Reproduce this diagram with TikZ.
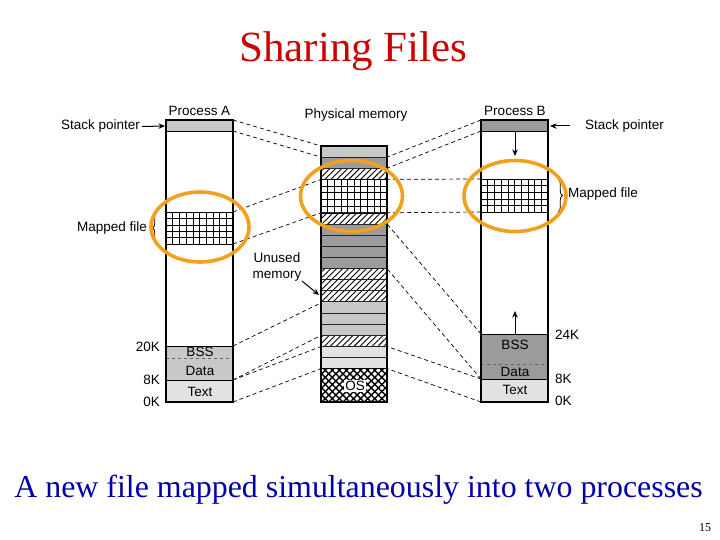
\documentclass[tikz,border=0pt]{standalone}
\usepackage{fontspec}
\setmainfont{Liberation Serif}
\setsansfont{Liberation Sans}
\usetikzlibrary{arrows.meta,patterns.meta,decorations.pathreplacing}
\definecolor{titlered}{RGB}{204,0,0}
\definecolor{capblue}{RGB}{0,0,170}
\definecolor{ringorange}{RGB}{242,160,30}
\definecolor{lgray}{RGB}{200,200,200}
\definecolor{dgray}{RGB}{155,155,155}
\definecolor{vlgray}{RGB}{226,226,226}
\begin{document}
\begin{tikzpicture}[x=1pt,y=-1pt,
  lab/.style={font=\sffamily\fontsize{13.5}{15}\selectfont, inner sep=0pt},
  conn/.style={dash pattern=on 4pt off 3pt, line width=0.7pt},
  colbox/.style={draw=black, line width=1.2pt},
  sep/.style={draw=black, line width=0.8pt},
  bandL/.style={fill=lgray, draw=black!85, line width=0.7pt},
  bandD/.style={fill=dgray, draw=black!85, line width=0.7pt},
  bandV/.style={fill=vlgray, draw=black!85, line width=0.7pt},
  bandH/.style={pattern={Lines[angle=45,distance=4.2pt,line width=0.9pt]}, draw=black!85, line width=0.7pt},
  bandOS/.style={pattern={Lines[angle=45,distance=5pt,line width=1.4pt]},
                 postaction={pattern={Lines[angle=-45,distance=5pt,line width=1.4pt]}}},
  gridln/.style={line width=0.5pt},
  arr/.style={-{Stealth[length=6.5pt,width=5.5pt]}, line width=1pt},
  ring/.style={draw=ringorange, line width=3.6pt},
  brc/.style={decorate, decoration={brace, amplitude=4.5pt}, line width=0.8pt},
]
\useasboundingbox (0,0) rectangle (720,540);

% ---------------- titles ----------------
\node[font=\fontsize{43}{48}\selectfont, text=titlered, anchor=base] (title) at (353.5,62) {Sharing Files};
\node[font=\fontsize{31.9}{36}\selectfont, text=capblue, anchor=base] (caption) at (358.5,497) {A new file mapped simultaneously into two processes};
\node[font=\fontsize{12}{14}\selectfont, anchor=base] (pageno) at (705,531) {15};

% ---------------- Process A ----------------
\fill[lgray] (166,120) rectangle (233,131);
\fill[lgray] (166,346) rectangle (233,380);
\fill[vlgray] (166,380) rectangle (233,402);
\foreach \x in {166,172.7,...,234} \draw[gridln] (\x,212) -- (\x,244);
\foreach \y in {212,218.4,...,245} \draw[gridln] (166,\y) -- (233,\y);
\draw[sep] (166,131) -- (233,131);
\draw[sep] (166,346) -- (233,346);
\draw[sep] (166,380) -- (233,380);
\draw[dashed, black!60, line width=0.6pt] (166,358) -- (233,358);
\draw[colbox] (166,120) rectangle (233,402);

\node[lab] (procA) at (199.5,111) {Process A};
\node[lab] (bssA) at (200,352) {BSS};
\node[lab] (dataA) at (200,370.5) {Data};
\node[lab] (textA) at (200,391.5) {Text};
\node[lab, anchor=east] (k20A) at (160,347) {20K};
\node[lab, anchor=east] (k8A) at (160,380) {8K};
\node[lab, anchor=east] (k0A) at (160,402) {0K};
\node[lab, anchor=east] (spA) at (140,126.5) {Stack pointer};
\coordinate (spAtip) at (165,126);
\draw[arr] ([xshift=2pt]spA.east) -- (spAtip);
\node[lab, anchor=east] (mfA) at (147,228) {Mapped file};
\draw[brc] (157,244) -- (157,212);

% ---------------- Physical memory ----------------
\def\bh{11.1304}
\foreach \a/\b/\s in {0/1/bandL,1/2/bandD,2/3/bandH,6/7/bandH,7/8/bandD,8/9/bandD,9/10/bandD,10/11/bandD,
                      11/12/bandH,12/13/bandH,13/14/bandH,14/15/bandL,15/16/bandL,16/17/bandL,17/18/bandH,
                      18/19/bandV,19/20/bandV}
  \path[\s] (321,{146+\a*\bh}) rectangle (387,{146+\b*\bh});
\path[bandOS] (321,{146+20*\bh}) rectangle (387,402);
\foreach \x in {321,327.6,...,388} \draw[gridln] (\x,{146+3*\bh}) -- (\x,{146+6*\bh});
\foreach \y in {0,1,...,5} \draw[gridln] (321,{146+3*\bh+\y*6.678}) -- (387,{146+3*\bh+\y*6.678});
\draw[sep] (321,{146+20*\bh}) -- (387,{146+20*\bh});
\draw[colbox] (321,146) rectangle (387,402);
\node[lab, fill=white, inner sep=1.5pt] (os) at (355,386) {OS};
\node[lab] (physlab) at (356,115) {Physical memory};
\node[lab, align=center, font=\sffamily\fontsize{13.5}{16}\selectfont] (unused) at (277,267) {Unused\\memory};
\coordinate (unusedtip) at (319,295);
\draw[arr] (302,281) -- (unusedtip);

% ---------------- Process B ----------------
\fill[dgray] (481,120) rectangle (548,131);
\fill[dgray] (481,334) rectangle (548,379);
\fill[vlgray] (481,379) rectangle (548,402);
\foreach \x in {481,487.7,...,549} \draw[gridln] (\x,179) -- (\x,212);
\foreach \y in {179,185.6,...,213} \draw[gridln] (481,\y) -- (548,\y);
\draw[sep] (481,131) -- (548,131);
\draw[sep] (481,334) -- (548,334);
\draw[sep] (481,379) -- (548,379);
\draw[dashed, black!60, line width=0.6pt] (481,364) -- (548,364);
\draw[colbox] (481,120) rectangle (548,402);

\node[lab] (procB) at (515,111) {Process B};
\node[lab] (bssB) at (515,344.5) {BSS};
\node[lab] (dataB) at (515,372) {Data};
\node[lab] (textB) at (515,390) {Text};
\node[lab, anchor=west] (k24B) at (555,335) {24K};
\node[lab, anchor=west] (k8B) at (555,379) {8K};
\node[lab, anchor=west] (k0B) at (555,401) {0K};
\node[lab, anchor=west] (spB) at (585,126.5) {Stack pointer};
\coordinate (spBtip) at (550,126);
\draw[arr] (570,126) -- (spBtip);
\node[lab, anchor=west] (mfB) at (568,194.5) {Mapped file};
\draw[brc] (558,179) -- (558,212);
\coordinate (stkB) at (515,132);
\coordinate (stkBtip) at (515,156);
\draw[arr] (stkB) -- (stkBtip);
\coordinate (heapB) at (515,334);
\coordinate (heapBtip) at (515,311);
\draw[arr] (heapB) -- (heapBtip);

% ---------------- connectors ----------------
\foreach \ay/\py in {120/146,131/157.13,212/179.39,244/212.78,346/302.83,380/335.4,380/346.52,402/368.6}
  \draw[conn] (233,\ay) -- (321,\py);
\foreach \by/\py in {120/157.13,131/168.26,179/179.39,212/212.78,334/224,379/268.6,379/346.52,402/368.6}
  \draw[conn] (481,\by) -- (387,\py);

% ---------------- orange rings ----------------
\draw[ring] (200,227) ellipse [x radius=49pt, y radius=35pt];
\draw[ring] (351.5,196) ellipse [x radius=51pt, y radius=35.5pt];
\draw[ring] (515,196) ellipse [x radius=51pt, y radius=35.5pt];
\end{tikzpicture}
\end{document}
